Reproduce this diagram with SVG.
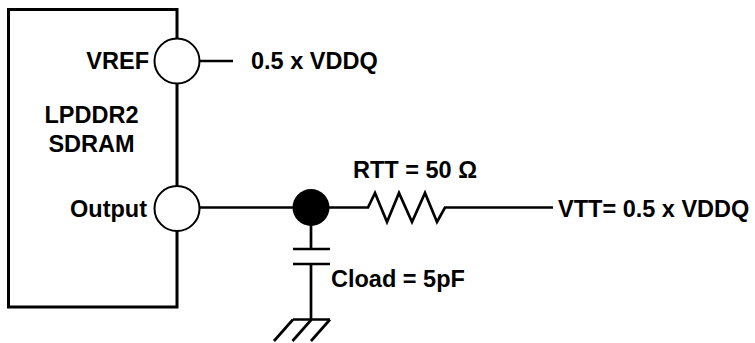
<svg xmlns="http://www.w3.org/2000/svg" width="755" height="343" viewBox="0 0 755 343">
<style>
.w{fill:none;stroke:#000;stroke-width:2.7;stroke-linecap:butt;stroke-linejoin:miter}
.pin{fill:#fff;stroke:#000;stroke-width:2}
.t{font-family:"Liberation Sans",Arial,sans-serif;font-weight:bold;font-size:23.5px;fill:#000}
</style>
<rect width="755" height="343" fill="#fff"/>
<g id="connectors">
<line class="w" x1="199" y1="61" x2="233" y2="61"/>
<line class="w" x1="199.5" y1="207.5" x2="311" y2="207.5"/>
<polyline class="w" points="311,207.5 368,207.5 375,193 387,222 399,193 412,222 425,193 437,222 445,207.5 553,207.5"/>
<line class="w" x1="311" y1="207.5" x2="311" y2="249"/>
<line class="w" x1="293" y1="249" x2="330" y2="249"/>
<line class="w" x1="293" y1="264" x2="330" y2="264"/>
<line class="w" x1="311" y1="264" x2="311" y2="319.5"/>
<line class="w" x1="293" y1="319.5" x2="330" y2="319.5"/>
<line class="w" x1="293" y1="319.5" x2="274" y2="341"/>
<line class="w" x1="311.5" y1="319.5" x2="292.5" y2="341"/>
<line class="w" x1="330" y1="319.5" x2="311" y2="341"/>
</g>
<g id="sdram">
<rect x="8.5" y="9.5" width="168.5" height="297.5" fill="none" stroke="#000" stroke-width="3"/>
<text class="t" x="91.5" y="123" text-anchor="middle">LPDDR2</text>
<text class="t" x="91.5" y="152" text-anchor="middle">SDRAM</text>
</g>
<g id="vref">
<circle class="pin" cx="177" cy="61" r="22.5"/>
<text class="t" x="149" y="69" text-anchor="end">VREF</text>
</g>
<g id="vref-value">
<text class="t" x="251" y="69">0.5 x VDDQ</text>
</g>
<g id="output">
<circle class="pin" cx="177" cy="208.5" r="22.5"/>
<text class="t" x="147" y="217" text-anchor="end">Output</text>
</g>
<g id="node">
<circle cx="311" cy="207.5" r="18.5" fill="#000"/>
</g>
<g id="rtt">
<text class="t" x="353" y="178">RTT = 50 Ω</text>
</g>
<g id="vtt">
<text class="t" x="558" y="217">VTT= 0.5 x VDDQ</text>
</g>
<g id="cload">
<text class="t" x="331" y="286.5">Cload = 5pF</text>
</g>
</svg>
